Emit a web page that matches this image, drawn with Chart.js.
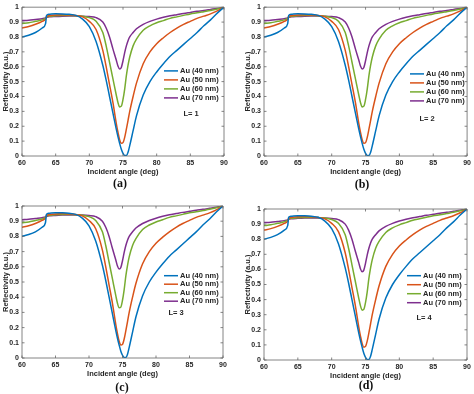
<!DOCTYPE html>
<html>
<head>
<meta charset="utf-8">
<script src="https://cdn.jsdelivr.net/npm/chart.js@4.4.1/dist/chart.umd.min.js"></script>
<style>
  body { margin:0; background:#fff; width:474px; height:394px; position:relative; overflow:hidden; }
  canvas { position:absolute; }
  .cap { position:absolute; font: bold 12px "Liberation Serif", "Times New Roman", serif; color:#111; transform:translateX(-50%); line-height:14px; }
</style>
</head>
<body>
<canvas id="cA" width="237" height="195" style="left:0;top:0"></canvas>
<canvas id="cB" width="237" height="195" style="left:237px;top:0"></canvas>
<canvas id="cC" width="237" height="199" style="left:0;top:195px"></canvas>
<canvas id="cD" width="237" height="199" style="left:237px;top:195px"></canvas>
<div class="cap" style="left:120px;top:176px">(a)</div>
<div class="cap" style="left:362px;top:177px">(b)</div>
<div class="cap" style="left:122px;top:380px">(c)</div>
<div class="cap" style="left:366px;top:378px">(d)</div>
<script>
// incident angle (deg)
const angles = [60, 61, 62, 63, 63.5, 63.65, 64, 65, 66, 67, 68, 69, 70, 71, 72, 72.5, 73, 73.5, 74, 74.25,
  74.5, 74.75, 75, 75.25, 75.5, 75.75, 76, 76.5, 77, 78, 79, 80, 81, 82, 83, 84, 85, 86, 87, 88, 89, 90];

// reflectivity (the four panels look the same)
const au40 = [0.800, 0.812, 0.830, 0.860, 0.890, 0.945, 0.952, 0.956, 0.955, 0.952, 0.945, 0.92, 0.87, 0.77, 0.61, 0.51,
  0.40, 0.29, 0.18, 0.13, 0.085, 0.045, 0.018, 0.004, 0.004, 0.025, 0.07, 0.17, 0.27, 0.41, 0.50, 0.565, 0.62, 0.67,
  0.71, 0.75, 0.79, 0.83, 0.875, 0.915, 0.96, 1.0];
const au50 = [0.860, 0.870, 0.885, 0.905, 0.920, 0.938, 0.943, 0.948, 0.950, 0.948, 0.944, 0.935, 0.905, 0.85, 0.71, 0.60,
  0.48, 0.36, 0.22, 0.16, 0.11, 0.085, 0.09, 0.125, 0.18, 0.24, 0.30, 0.40, 0.49, 0.62, 0.70, 0.755, 0.795, 0.83,
  0.86, 0.885, 0.905, 0.925, 0.94, 0.955, 0.975, 1.0];
const au60 = [0.890, 0.895, 0.905, 0.915, 0.925, 0.935, 0.938, 0.942, 0.944, 0.944, 0.943, 0.940, 0.93, 0.905, 0.83, 0.74,
  0.63, 0.52, 0.41, 0.36, 0.33, 0.335, 0.38, 0.45, 0.54, 0.61, 0.665, 0.74, 0.785, 0.845, 0.875, 0.895, 0.91, 0.925,
  0.935, 0.945, 0.955, 0.962, 0.97, 0.978, 0.988, 1.0];
const au70 = [0.910, 0.913, 0.918, 0.923, 0.928, 0.932, 0.935, 0.938, 0.940, 0.941, 0.941, 0.940, 0.937, 0.93, 0.90, 0.86,
  0.80, 0.72, 0.645, 0.605, 0.585, 0.595, 0.64, 0.695, 0.74, 0.775, 0.80, 0.83, 0.855, 0.885, 0.905, 0.92, 0.932, 0.942,
  0.95, 0.958, 0.965, 0.972, 0.978, 0.985, 0.992, 1.0];

const seriesNames = ['Au (40 nm)', 'Au (50 nm)', 'Au (60 nm)', 'Au (70 nm)'];
const layerNums = [1, 2, 3, 4];

const colors = ['#0072BD', '#D95319', '#77AC30', '#7E2F8E'];
const txt = '#262626';
const fam = '"Liberation Sans", Arial, sans-serif';

// box + inward ticks, matlab style
const frame = {
  id: 'frame',
  afterDatasetsDraw(chart) {
    const { ctx, chartArea: a, scales: { x, y } } = chart;
    ctx.save();
    ctx.strokeStyle = '#666';
    ctx.lineWidth = 0.8;
    ctx.beginPath();
    ctx.rect(a.left, a.top, a.right - a.left, a.bottom - a.top);
    x.ticks.forEach(t => {
      const px = x.getPixelForValue(t.value);
      ctx.moveTo(px, a.bottom); ctx.lineTo(px, a.bottom - 2.5);
      ctx.moveTo(px, a.top); ctx.lineTo(px, a.top + 2.5);
    });
    y.ticks.forEach(t => {
      const py = y.getPixelForValue(t.value);
      ctx.moveTo(a.left, py); ctx.lineTo(a.left + 2.5, py);
      ctx.moveTo(a.right, py); ctx.lineTo(a.right - 2.5, py);
    });
    ctx.stroke();
    ctx.restore();
  }
};

// legend inside the axes + the "L= n" note
const inLegend = {
  id: 'inLegend',
  afterDraw(chart, args, o) {
    const { ctx, chartArea: a } = chart;
    ctx.save();
    ctx.font = 'bold 7.5px ' + fam;
    ctx.textBaseline = 'middle';
    ctx.fillStyle = txt;
    chart.data.datasets.forEach((ds, i) => {
      const yy = a.top + o.y + i * o.gap;
      ctx.strokeStyle = ds.borderColor;
      ctx.lineWidth = 1.5;
      ctx.beginPath();
      ctx.moveTo(a.left + o.x, yy);
      ctx.lineTo(a.left + o.x + 14, yy);
      ctx.stroke();
      ctx.fillText(ds.label, a.left + o.x + 16, yy);
    });
    ctx.textAlign = 'center';
    ctx.fillText(o.note, a.left + o.nx, a.top + o.ny);
    ctx.restore();
  }
};

const panels = [
  { id: 'cA', pad: { left: 0, top: 4, right: 13, bottom: 19 }, leg: { x: 142, y: 63.7, gap: 9, nx: 169, ny: 107 } },
  { id: 'cB', pad: { left: 5, top: 5, right: 5, bottom: 19 }, leg: { x: 146, y: 66.7, gap: 9, nx: 163, ny: 111.7 } },
  { id: 'cC', pad: { left: 0, top: 11, right: 14, bottom: 16 }, leg: { x: 142, y: 69.7, gap: 8.5, nx: 154, ny: 107 } },
  { id: 'cD', pad: { left: 5, top: 14, right: 7, bottom: 14 }, leg: { x: 143, y: 66.7, gap: 9, nx: 160, ny: 109 } }
];

const tickFont = { family: fam, size: 7, weight: 'bold' };
const titleFont = { family: fam, size: 7.5, weight: 'bold' };

panels.forEach((p, k) => {
  const sets = [au40, au50, au60, au70].map((vals, i) => ({
    label: seriesNames[i],
    data: angles.map((a, j) => ({ x: a, y: vals[j] })),
    borderColor: colors[i],
    borderWidth: 1.5,
    pointRadius: 0,
    cubicInterpolationMode: 'monotone',
    fill: false
  }));
  new Chart(document.getElementById(p.id), {
    type: 'line',
    data: { datasets: sets },
    plugins: [frame, inLegend],
    options: {
      responsive: false,
      animation: false,
      layout: { padding: p.pad },
      plugins: {
        legend: { display: false },
        tooltip: { enabled: false },
        inLegend: Object.assign({ note: 'L= ' + layerNums[k] }, p.leg)
      },
      scales: {
        x: {
          type: 'linear', min: 60, max: 90,
          ticks: { stepSize: 5, font: tickFont, color: txt, padding: 3, maxRotation: 0, autoSkip: false },
          grid: { display: false, drawTicks: false },
          border: { display: false },
          title: { display: true, text: 'Incident angle (deg)', font: titleFont, color: txt, padding: { top: 1, bottom: 0 } },
          afterFit(s) { s.height = 20; }
        },
        y: {
          min: 0, max: 1,
          ticks: { stepSize: 0.1, font: tickFont, color: txt, padding: 3, autoSkip: false,
            callback: v => String(+v.toFixed(1)) },
          grid: { display: false, drawTicks: false },
          border: { display: false },
          title: { display: true, text: 'Reflectivity (a.u.)', font: titleFont, color: txt, padding: { top: 1, bottom: 0 } },
          afterFit(s) { s.width = 22; }
        }
      }
    }
  });
});
</script>
</body>
</html>
